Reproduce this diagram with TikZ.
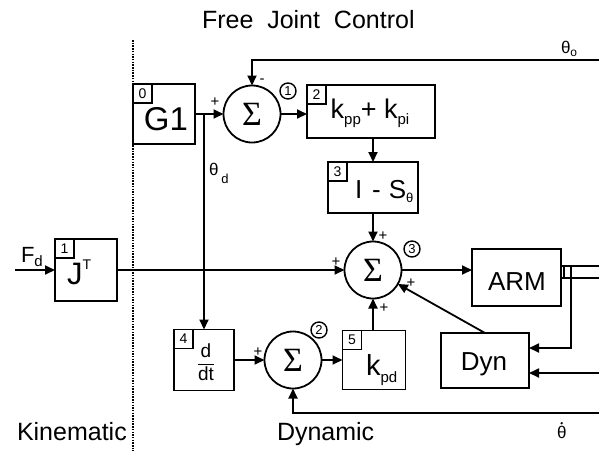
\documentclass[tikz,border=0pt]{standalone}
\usepackage{fontspec}
\usepackage{amsmath}
\setmainfont{Liberation Sans}
\newfontfamily\serifsig{Liberation Serif}
\usetikzlibrary{arrows.meta}
\newcommand\fsz[1]{\fontsize{#1}{#1}\selectfont}
\newcommand\lowsub[2]{\raisebox{-#1}{\fsz{15}#2}}
\begin{document}
\begin{tikzpicture}[x=1pt,y=-1pt,
  every node/.style={inner sep=0pt, outer sep=0pt},
  blk/.style={draw, line width=1.8pt, rectangle},
  tagbox/.style={draw, line width=1.3pt, minimum width=19pt, minimum height=19pt, anchor=north west, font=\fsz{14}},
  sum/.style={draw, circle, line width=1.8pt, minimum size=57pt, font=\serifsig\fsz{34}},
  cnum/.style={draw, circle, line width=1.4pt, minimum size=16pt, font=\fsz{13}},
  sgn/.style={font=\fsz{15}},
  arr/.style={line width=1.8pt, -{Triangle[length=10pt,width=9pt]}},
  ln/.style={line width=1.8pt},
  lbl/.style={font=\fsz{25}, anchor=base west},
  thl/.style={font=\fsz{17}, anchor=base west},
]
\useasboundingbox (0,0) rectangle (599,451);

% titles
\node[lbl] (title) at (202,28) {Free\ \ Joint\ \ Control};
\node[lbl] (kin) at (17,440) {Kinematic};
\node[lbl] (dyna) at (277,440) {Dynamic};

% divider
\draw[line width=1.6pt, dash pattern=on 1.5pt off 1.2pt] (133,40) -- (133,451);

% blocks
\node[blk, minimum width=62pt, minimum height=60pt] (g1) at (164,114) {};
\node[font=\fsz{33}] (g1t) at (166,119) {G1};
\node[tagbox] (t0) at (g1.north west) {0};

\node[blk, minimum width=128pt, minimum height=53pt] (b2) at (371,111.5) {};
\node[font=\fsz{27}, anchor=base] (b2t) at (370,118) {k\lowsub{6pt}{pp}+ k\lowsub{6pt}{pi}};
\node[tagbox] (t2) at (b2.north west) {2};

\node[blk, minimum width=90pt, minimum height=51pt] (b3) at (373,187.5) {};
\node[font=\fsz{26}, anchor=base west] (b3t) at (355,198) {I\hspace{10pt}-\hspace{8pt}S\lowsub{4pt}{\fsz{13}θ}};
\node[tagbox] (t3) at (b3.north west) {3};

\node[blk, minimum width=62pt, minimum height=62pt] (jt) at (86,270) {};
\node[font=\fsz{31}, anchor=base west] (jtt) at (67,284) {J\raisebox{15pt}{\fsz{14}T}};
\node[tagbox] (t1) at (jt.north west) {1};

\node[blk, minimum width=60pt, minimum height=61pt] (dd) at (204,360) {};
\node[font=\fsz{19}] (ddt) at (206,362) {$\dfrac{\text{d}}{\text{dt}}$};
\node[tagbox] (t4) at (dd.north west) {4};

\node[blk, minimum width=63pt, minimum height=59pt] (kpd) at (374,360) {};
\node[font=\fsz{29}, anchor=base west] (kpdt) at (366,375) {k\lowsub{7pt}{pd}};
\node[tagbox] (t5) at (kpd.north west) {5};

\node[blk, minimum width=89pt, minimum height=57pt] (arm) at (516.5,277.5) {};
\node[font=\fsz{26}, anchor=base] (armt) at (517,290) {ARM};

\node[blk, minimum width=88pt, minimum height=55pt] (dyn) at (485,360.5) {};
\node[font=\fsz{26}, anchor=base] (dynt) at (484,370) {Dyn};

% summing junctions
\node[sum] (s1) at (252,114) {\serifsig Σ};
\node[sum] (s2) at (293,360) {\serifsig Σ};
\node[sum] (s3) at (373,270) {\serifsig Σ};
\node[cnum] (c1) at (288,91) {1};
\node[cnum] (c2) at (319,330) {2};
\node[cnum] (c3) at (412,249) {3};

% signs
\node[sgn] (p1) at (215,102) {+};
\node[sgn] (m1) at (262,81) {-};
\node[sgn] (p3a) at (383,236) {+};
\node[sgn] (p3b) at (336,262) {+};
\node[sgn] (p3c) at (411,283) {+};
\node[sgn] (p3d) at (384,308) {+};
\node[sgn] (p2) at (258,352) {+};

% signal labels
\node[thl] (tho) at (561,53) {θ\raisebox{-3pt}{\fsz{12}o}};
\node[thl] (thd) at (209,175) {θ\hspace{3pt}\raisebox{-8pt}{\fsz{13}d}};
\node[font=\fsz{22}, anchor=base west] (fd) at (21,262) {F\raisebox{-4pt}{\fsz{15}d}};
\node[thl] (thdot) at (557,438) {θ};
\fill (thdot.north) ++(0,-2.5) circle (1.3pt);

% coordinates
\coordinate (thetao) at (599,60);
\coordinate (br) at (204,114);
\coordinate (fin) at (15,270);
\coordinate (ao1) at (599,266);
\coordinate (ao2) at (599,278);
\coordinate (tap) at (571,266);
\coordinate (din1) at (571,348);
\coordinate (din2) at (599,373);
\coordinate (tdot) at (599,413);
\coordinate (stub1) at (564,266);
\coordinate (stub2) at (564,278);

% connectors
\draw[arr] (thetao) -| (s1.north);
\draw[arr] (g1.east) -- (s1.west);
\draw[arr] (br) -- (dd.north);
\draw[arr] (s1.east) -- (s1.east -| b2.west);
\draw[arr] (b3.north |- b2.south) -- (b3.north);
\draw[arr] (b3.south) -- (s3.north);
\draw[arr] (fin) -- (jt.west);
\draw[arr] (jt.east) -- (s3.west);
\draw[arr] (dd.east) -- (s2.west);
\draw[arr] (s2.east) -- (kpd.west);
\draw[arr] (s3.south |- kpd.north) -- (s3.south);
\draw[arr] (s3.east) -- (s3.east -| arm.west);
\draw[ln] (arm.east |- ao1) -- (ao1);
\draw[ln] (arm.east |- ao2) -- (ao2);
\draw[ln] (stub1) -- (stub2);
\draw[arr] (tap) -- (din1) -- (din1 -| dyn.east);
\draw[arr] (din2) -- (din2 -| dyn.east);
\draw[arr] (dyn.north) -- (s3);
\draw[arr] (tdot) -| (s2.south);
\end{tikzpicture}
\end{document}
